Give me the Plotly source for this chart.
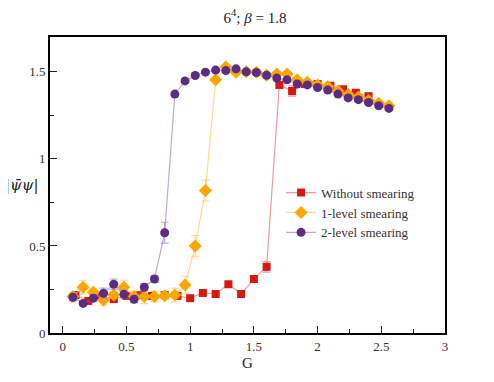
import plotly.graph_objects as go

# data
g_red = [0.1, 0.2, 0.3, 0.4, 0.5, 0.6, 0.7, 0.8, 0.9, 1.0, 1.1, 1.2,
         1.3, 1.4, 1.5, 1.6, 1.7, 1.8, 1.9, 2.0, 2.1, 2.2, 2.3, 2.4]
psi_red = [0.218, 0.184, 0.213, 0.195, 0.213, 0.218, 0.213, 0.218, 0.213, 0.200, 0.230, 0.224,
           0.280, 0.224, 0.310, 0.380, 1.425, 1.390, 1.430, 1.430, 1.420, 1.400, 1.380, 1.360]
err_red = [0.015, 0.01, 0.01, 0.01, 0.01, 0.01, 0.01, 0.01, 0.01, 0.01, 0.01, 0.01,
           0.01, 0.01, 0.02, 0.03, 0.02, 0.03, 0.01, 0.01, 0.01, 0.01, 0.01, 0.01]

g_smear = [0.08, 0.16, 0.24, 0.32, 0.40, 0.48, 0.56, 0.64, 0.72, 0.80, 0.88, 0.96,
           1.04, 1.12, 1.20, 1.28, 1.36, 1.44, 1.52, 1.60, 1.68, 1.76, 1.84, 1.92,
           2.00, 2.08, 2.16, 2.24, 2.32, 2.40, 2.48, 2.56]
psi_one = [0.210, 0.263, 0.234, 0.190, 0.218, 0.263, 0.209, 0.209, 0.209, 0.214, 0.218, 0.276,
           0.500, 0.818, 1.454, 1.527, 1.498, 1.500, 1.498, 1.480, 1.487, 1.487, 1.454, 1.440,
           1.425, 1.416, 1.390, 1.370, 1.355, 1.335, 1.320, 1.305]
err_one = [0.02, 0.04, 0.02, 0.03, 0.02, 0.04, 0.03, 0.04, 0.03, 0.02, 0.04, 0.05,
           0.06, 0.06, 0.01, 0.01, 0.01, 0.01, 0.01, 0.01, 0.01, 0.01, 0.01, 0.01,
           0.01, 0.01, 0.01, 0.01, 0.01, 0.01, 0.01, 0.01]
psi_two = [0.205, 0.170, 0.200, 0.228, 0.280, 0.222, 0.194, 0.263, 0.310, 0.576, 1.372, 1.448,
           1.479, 1.498, 1.510, 1.507, 1.517, 1.500, 1.496, 1.480, 1.464, 1.454, 1.430, 1.425,
           1.410, 1.395, 1.372, 1.350, 1.340, 1.324, 1.305, 1.290]
err_two = [0.02, 0.01, 0.02, 0.03, 0.03, 0.02, 0.02, 0.02, 0.02, 0.06, 0.01, 0.01,
           0.01, 0.01, 0.01, 0.01, 0.01, 0.01, 0.01, 0.01, 0.01, 0.01, 0.01, 0.01,
           0.01, 0.01, 0.01, 0.01, 0.01, 0.01, 0.01, 0.01]

SERIF = "Liberation Serif, DejaVu Serif, serif"

series = [
    ("Without smearing", g_red, psi_red, err_red, "#d7190f", "rgba(225,90,90,0.6)", "square", 8),
    ("1-level smearing", g_smear, psi_one, err_one, "#ffa500", "rgba(255,190,80,0.6)", "diamond", 10),
    ("2-level smearing", g_smear, psi_two, err_two, "#5a2d82", "rgba(150,110,180,0.6)", "circle", 9),
]

fig = go.Figure()
for name, xs, ys, es, col, light, sym, size in series:
    fig.add_trace(go.Scatter(
        x=xs, y=ys, name=name, mode="lines+markers",
        line=dict(color=light, width=1.2),
        marker=dict(symbol=sym, size=size, color=col),
        error_y=dict(type="data", array=es, color=light, thickness=1.2, width=4),
    ))

# page body has an 8px margin, so the margins are shifted to compensate
fig.update_layout(
    width=494, height=382,
    margin=dict(l=42, r=57, t=29, b=57),
    plot_bgcolor="white", paper_bgcolor="white",
    font=dict(family=SERIF, size=13, color="#333"),
    title=dict(text="6<sup>4</sup>; <i>β</i> = 1.8", x=0.5, xanchor="center",
               y=1, yanchor="top", pad=dict(t=4), font=dict(family=SERIF, size=15, color="#222")),
    showlegend=True,
    legend=dict(x=0.585, y=0.525, xanchor="left", yanchor="top", bgcolor="rgba(0,0,0,0)",
                font=dict(family=SERIF, size=13, color="#333"), tracegroupgap=0,
                itemwidth=30),
)
fig.update_xaxes(
    range=[-0.1, 3], tickvals=[0, 0.5, 1, 1.5, 2, 2.5, 3],
    ticktext=["0", "0.5", "1", "1.5", "2", "2.5", "3"],
    ticks="inside", ticklen=7, tickcolor="#222",
    minor=dict(dtick=0.25, ticks="inside", ticklen=4, tickcolor="#222"),
    showline=True, linecolor="black", linewidth=2, mirror=True,
    showgrid=False, zeroline=False,
    title=dict(text="G", font=dict(family=SERIF, size=15, color="#222"), standoff=5),
)
fig.update_yaxes(
    range=[0, 1.7], tickvals=[0, 0.5, 1, 1.5],
    ticktext=["0", "0.5", "1", "1.5"],
    ticks="inside", ticklen=7, tickcolor="#222",
    minor=dict(dtick=0.25, ticks="inside", ticklen=4, tickcolor="#222"),
    showline=True, linecolor="black", linewidth=2, mirror=True,
    showgrid=False, zeroline=False,
)
fig.add_annotation(text="|ψ̄ψ|", xref="paper", yref="paper", x=-0.07, y=0.5,
                   showarrow=False, xanchor="center", yanchor="middle",
                   font=dict(family="DejaVu Serif, serif", size=15, color="#222", style="italic"))

fig.write_html("out.html")
